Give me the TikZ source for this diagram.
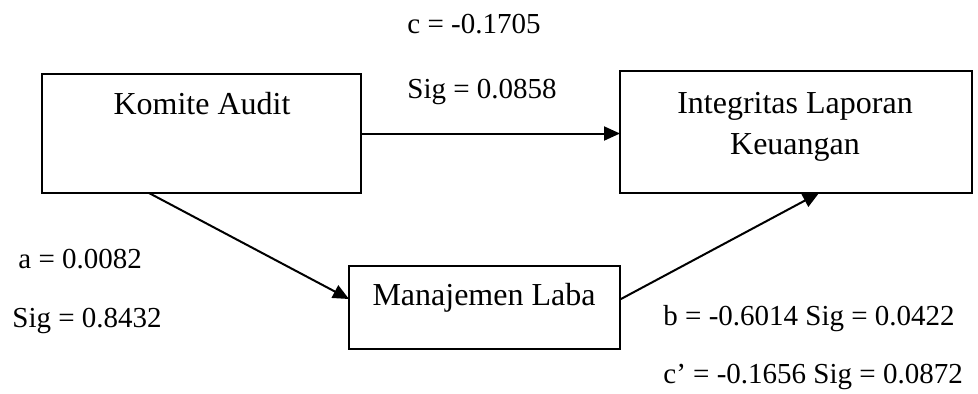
\documentclass[tikz,border=0pt]{standalone}
\usepackage{fontspec}
\setmainfont{Liberation Serif}
\usetikzlibrary{arrows.meta}

\begin{document}
\begin{tikzpicture}[x=0.5pt,y=-0.5pt,
    font=\fontsize{16}{20.5}\selectfont,
    box/.style={shape=rectangle,draw=black,line width=0.75pt,outer sep=0pt,inner sep=0pt},
    coef/.style={anchor=base west,inner sep=0pt,font=\fontsize{14.5}{17}\selectfont},
    path/.style={line width=1pt,-{Triangle[length=8pt,width=7pt]}}]
    \useasboundingbox (0,0) rectangle (978,393);
    % boxes
    \node[box,minimum width=159.5pt,minimum height=59.5pt] (KA) at (201.5,133.5) {};
    \node[box,minimum width=176pt,minimum height=61pt] (ILK) at (796,132) {};
    \node[box,minimum width=135.5pt,minimum height=41.5pt] (ML) at (484.5,307.5) {};
    \node[anchor=base,inner sep=0pt] (KAt) at (202,114) {Komite Audit};
    \node[align=center] (ILKt) at (795,127) {Integritas Laporan\\Keuangan};
    \node[anchor=base,inner sep=0pt] (MLt) at (484,305) {Manajemen Laba};
    % paths
    \draw [path] (KA.east) -- (KA.east -| ILK.west);
    \draw [path] ([xshift=53.5pt]KA.south west) -- ([yshift=4.25pt]ML.west);
    \draw [path] ([yshift=4pt]ML.east) -- ([xshift=99.5pt]ILK.south west);
    % coefficients
    \node[coef] (c) at (407,33) {c = -0.1705};
    \node[coef] (cs) at (407,98) {Sig = 0.0858};
    \node[coef] (a) at (18,268) {a = 0.0082};
    \node[coef] (as) at (12,327) {Sig = 0.8432};
    \node[coef] (b) at (663,325) {b = -0.6014 Sig = 0.0422};
    \node[coef] (cp) at (663,383) {c’ = -0.1656 Sig = 0.0872};
\end{tikzpicture}
\end{document}
